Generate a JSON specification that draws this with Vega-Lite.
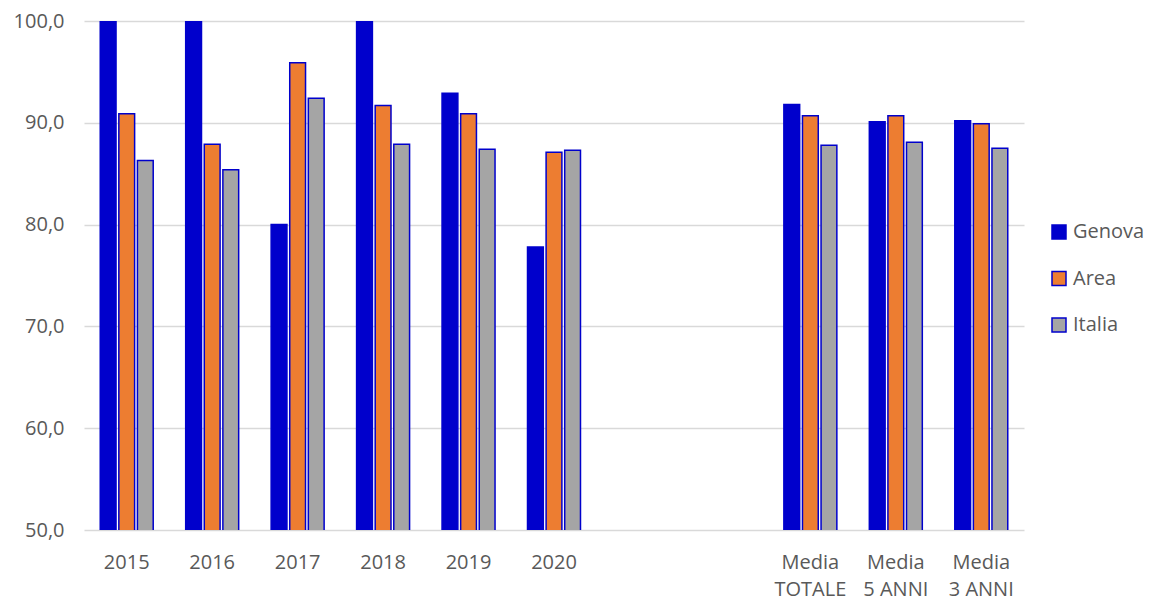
{
  "$schema": "https://vega.github.io/schema/vega-lite/v6.json",
  "autosize": {"type": "none"},
  "width": 940,
  "height": 509,
  "padding": {"left": 84, "top": 21, "right": 131, "bottom": 78},
  "background": "white",
  "config": {
    "view": {"stroke": null},
    "font": "Open Sans"
  },
  "data": {
    "values": [
      {"cat": "2015", "serie": "Genova", "v": 100},
      {"cat": "2015", "serie": "Area", "v": 90.9},
      {"cat": "2015", "serie": "Italia", "v": 86.3},
      {"cat": "2016", "serie": "Genova", "v": 100},
      {"cat": "2016", "serie": "Area", "v": 87.9},
      {"cat": "2016", "serie": "Italia", "v": 85.4},
      {"cat": "2017", "serie": "Genova", "v": 80.0},
      {"cat": "2017", "serie": "Area", "v": 95.9},
      {"cat": "2017", "serie": "Italia", "v": 92.4},
      {"cat": "2018", "serie": "Genova", "v": 100},
      {"cat": "2018", "serie": "Area", "v": 91.7},
      {"cat": "2018", "serie": "Italia", "v": 87.9},
      {"cat": "2019", "serie": "Genova", "v": 92.9},
      {"cat": "2019", "serie": "Area", "v": 90.9},
      {"cat": "2019", "serie": "Italia", "v": 87.4},
      {"cat": "2020", "serie": "Genova", "v": 77.8},
      {"cat": "2020", "serie": "Area", "v": 87.1},
      {"cat": "2020", "serie": "Italia", "v": 87.3},
      {"cat": "Media|TOTALE", "serie": "Genova", "v": 91.8},
      {"cat": "Media|TOTALE", "serie": "Area", "v": 90.7},
      {"cat": "Media|TOTALE", "serie": "Italia", "v": 87.8},
      {"cat": "Media|5 ANNI", "serie": "Genova", "v": 90.1},
      {"cat": "Media|5 ANNI", "serie": "Area", "v": 90.7},
      {"cat": "Media|5 ANNI", "serie": "Italia", "v": 88.1},
      {"cat": "Media|3 ANNI", "serie": "Genova", "v": 90.2},
      {"cat": "Media|3 ANNI", "serie": "Area", "v": 89.9},
      {"cat": "Media|3 ANNI", "serie": "Italia", "v": 87.5}
    ]
  },
  "mark": {"type": "bar", "stroke": "#0000CC", "strokeWidth": 1.5, "clip": true},
  "encoding": {
    "x": {
      "field": "cat",
      "type": "nominal",
      "sort": null,
      "scale": {
        "domain": ["2015", "2016", "2017", "2018", "2019", "2020", " ", "  ", "Media|TOTALE", "Media|5 ANNI", "Media|3 ANNI"],
        "paddingInner": 0.38,
        "paddingOuter": 0.19
      },
      "axis": {
        "title": null,
        "labelAngle": 0,
        "ticks": false,
        "domain": false,
        "labelFontSize": 20,
        "labelColor": "#595959",
        "labelPadding": 22,
        "labelLineHeight": 27,
        "labelBaseline": "top",
        "labelExpr": "split(datum.label, '|')"
      }
    },
    "xOffset": {
      "field": "serie",
      "type": "nominal",
      "sort": ["Genova", "Area", "Italia"],
      "scale": {"paddingInner": 0.15, "paddingOuter": 0}
    },
    "y": {
      "field": "v",
      "type": "quantitative",
      "scale": {"domain": [50, 100], "nice": false, "zero": false},
      "axis": {
        "title": null,
        "values": [50, 60, 70, 80, 90, 100],
        "ticks": false,
        "domain": false,
        "grid": true,
        "gridColor": "#D9D9D9",
        "gridWidth": 1.5,
        "labelFontSize": 20,
        "labelColor": "#595959",
        "labelPadding": 20,
        "labelExpr": "replace(format(datum.value, '.1f'), '.', ',')"
      }
    },
    "fill": {
      "field": "serie",
      "type": "nominal",
      "sort": ["Genova", "Area", "Italia"],
      "scale": {"domain": ["Genova", "Area", "Italia"], "range": ["#0000CC", "#ED7D31", "#A5A5A5"]},
      "legend": {
        "title": null,
        "orient": "none",
        "legendX": 965,
        "legendY": 201,
        "symbolType": "square",
        "symbolSize": 196,
        "symbolStrokeColor": "#0000CC",
        "symbolStrokeWidth": 1.5,
        "labelFontSize": 20,
        "labelColor": "#595959",
        "labelOffset": 4,
        "rowPadding": 26.5
      }
    }
  }
}
